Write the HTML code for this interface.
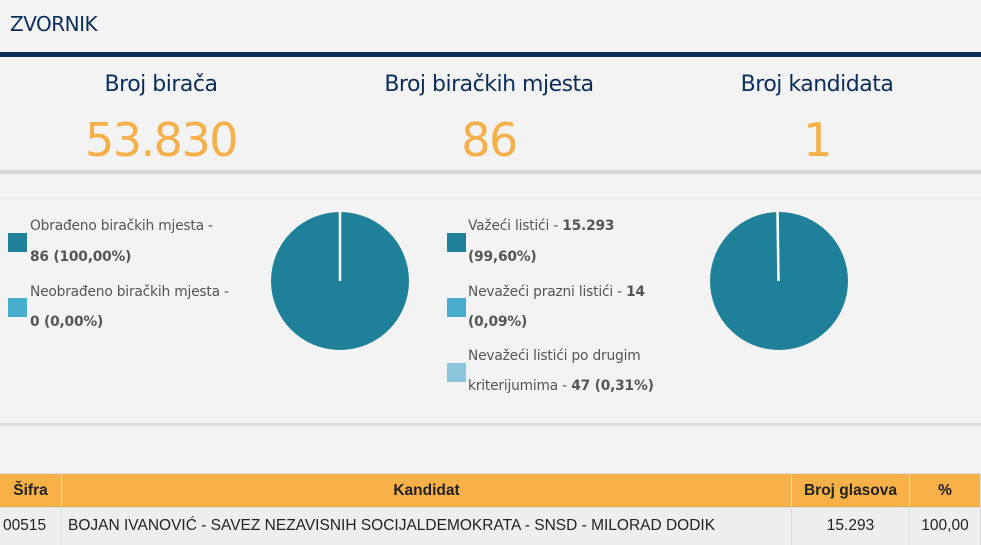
<!DOCTYPE html>
<html><head><meta charset="utf-8"><style>
body{margin:0;width:981px;height:544px;background:#f3f3f3;position:relative;overflow:hidden;font-family:"DejaVu Sans","Liberation Sans",sans-serif;}
.a{position:absolute;white-space:nowrap}
.h{color:#0b2d5c;font-size:22px;text-align:center;width:300px;font-family:"DejaVu Sans",sans-serif;letter-spacing:-0.5px}
.n{color:#f5b04a;font-size:46px;text-align:center;width:300px;letter-spacing:-1.5px}
.l{font-size:13.8px;color:#555;letter-spacing:-0.2px}
.l b{color:#555}
.sq{position:absolute;width:19px;height:19px}
td{border-right:1px solid #ddd;padding:0;font-size:15.5px;color:#222}
</style></head><body>
<div class="a" style="left:10px;top:12px;font-size:20px;color:#0b2d5c;letter-spacing:-0.5px">ZVORNIK</div>
<div class="a" style="left:0;top:52px;width:981px;height:5px;background:#0b2d5c"></div>
<div class="a h" style="left:11px;top:72px">Broj birača</div>
<div class="a h" style="left:339px;top:72px">Broj biračkih mjesta</div>
<div class="a h" style="left:667px;top:72px">Broj kandidata</div>
<div class="a n" style="left:11px;top:113px">53.830</div>
<div class="a n" style="left:339px;top:113px">86</div>
<div class="a n" style="left:667px;top:113px">1</div>
<div class="a" style="left:0;top:170px;width:981px;height:4px;background:#d6d6d6"></div>
<div class="a" style="left:0;top:198px;width:981px;height:1px;background:#e8e8e8"></div>

<div class="sq" style="left:8px;top:233px;background:#1f8199"></div>
<div class="a l" style="left:30px;top:218px">Obrađeno biračkih mjesta -</div>
<div class="a l" style="left:30px;top:249px"><b>86 (100,00%)</b></div>
<div class="sq" style="left:8px;top:298px;background:#4aaccd"></div>
<div class="a l" style="left:30px;top:284px">Neobrađeno biračkih mjesta -</div>
<div class="a l" style="left:30px;top:314px"><b>0 (0,00%)</b></div>

<svg class="a" style="left:270px;top:211px" width="140" height="140"><circle cx="70" cy="70" r="69" fill="#1f8199"/><line x1="70" y1="1" x2="70" y2="70" stroke="#fff" stroke-width="2.5"/></svg>

<div class="sq" style="left:447px;top:233px;background:#1f8199"></div>
<div class="a l" style="left:468px;top:218px">Važeći listići - <b>15.293</b></div>
<div class="a l" style="left:468px;top:249px"><b>(99,60%)</b></div>
<div class="sq" style="left:447px;top:298px;background:#4aaccd"></div>
<div class="a l" style="left:468px;top:284px">Nevažeći prazni listići - <b>14</b></div>
<div class="a l" style="left:468px;top:314px"><b>(0,09%)</b></div>
<div class="sq" style="left:447px;top:363px;background:#8cc6dd"></div>
<div class="a l" style="left:468px;top:348px">Nevažeći listići po drugim</div>
<div class="a l" style="left:468px;top:378px">kriterijumima - <b>47 (0,31%)</b></div>

<svg class="a" style="left:709px;top:211px" width="140" height="140"><circle cx="70" cy="70" r="69" fill="#1f8199"/><line x1="68.5" y1="1" x2="69.5" y2="70" stroke="#fff" stroke-width="2.5"/></svg>

<div class="a" style="left:0;top:423px;width:981px;height:3px;background:#dedede"></div>

<table class="a" style="left:0;top:473px;width:981px;border-collapse:collapse;font-family:'Liberation Sans Narrow','Liberation Sans',sans-serif">
<tr style="background:#f8b148;height:34px;font-weight:bold;text-align:center;border-top:1px solid #ddd">
<td style="width:61px">Šifra</td><td style="width:729px">Kandidat</td><td style="width:117px">Broj glasova</td><td>%</td></tr>
<tr style="background:#eeeeee;height:37px;border-top:1px solid #ddd">
<td style="padding-left:3px">00515</td><td style="padding-left:6px">BOJAN IVANOVIĆ - SAVEZ NEZAVISNIH SOCIJALDEMOKRATA - SNSD - MILORAD DODIK</td><td style="text-align:center">15.293</td><td style="text-align:center">100,00</td></tr>
</table>
</body></html>
